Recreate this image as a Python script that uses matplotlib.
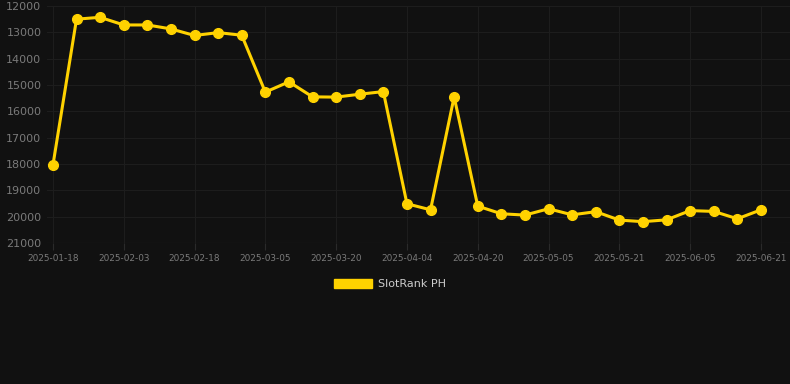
import matplotlib.pyplot as plt
from matplotlib.patches import Patch

# Rank values (lower is better, axis inverted)
ranks = [18050, 12500, 12430, 12720, 12720, 12870, 13120, 13010, 13110,
         15270, 14880, 15450, 15460, 15350, 15250, 19510, 19740, 15450,
         19600, 19890, 19940, 19700, 19930, 19810, 20130, 20190, 20120,
         19770, 19800, 20080, 19740]
tick_labels = ['2025-01-18', '2025-02-03', '2025-02-18', '2025-03-05',
               '2025-03-20', '2025-04-04', '2025-04-20', '2025-05-05',
               '2025-05-21', '2025-06-05', '2025-06-21']
y_ticks = [12000, 13000, 14000, 15000, 16000, 17000, 18000, 19000, 20000, 21000]

bg = '#111111'
gold = '#FFD200'

fig = plt.figure(figsize=(7.9, 3.84), dpi=100, facecolor=bg)
ax = fig.add_axes([47 / 790, 1 - 243 / 384, (790 - 47) / 790, (243 - 6) / 384])
ax.set_facecolor(bg)

x = list(range(len(ranks)))
ax.plot(x, ranks, color=gold, linewidth=2.2, marker='o', markersize=7,
        markerfacecolor=gold, markeredgecolor=gold, zorder=3, clip_on=False)

ax.set_xlim(-0.25, 31.23)
ax.set_ylim(21000, 12000)
ax.set_yticks(y_ticks)
ax.set_xticks(x[::3])
ax.set_xticklabels(tick_labels)

ax.grid(True, color='#1d1d1d', linewidth=0.8)
for s in ax.spines.values():
    s.set_visible(False)
ax.axhline(21000, color='#2a2a2a', linewidth=0.8, zorder=1)
ax.tick_params(axis='y', colors='#7a7a7a', labelsize=8, length=0, pad=4)
ax.tick_params(axis='x', colors='#7a7a7a', labelsize=6.4, length=5, pad=3,
               color='#2a2a2a')

handle = Patch(facecolor=gold, edgecolor=gold, label='SlotRank PH')
leg = fig.legend(handles=[handle], loc='center', bbox_to_anchor=(390 / 790, 1 - 284 / 384),
                 frameon=False, fontsize=8, handlelength=3.4, handleheight=0.9,
                 handletextpad=0.6)
for t in leg.get_texts():
    t.set_color('#cccccc')

fig.savefig('out.png', dpi=100, facecolor=bg)
